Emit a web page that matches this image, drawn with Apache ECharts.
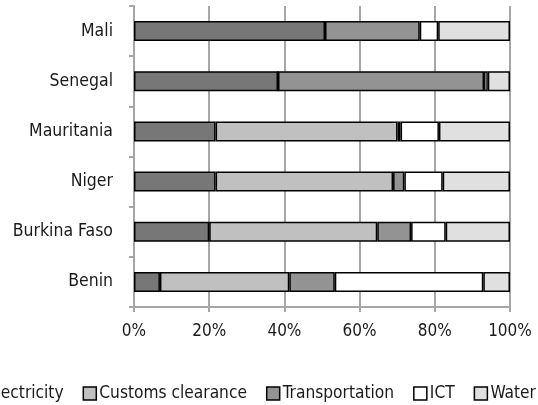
<!DOCTYPE html>
<html>
<head>
<meta charset="utf-8">
<script src="https://cdn.jsdelivr.net/npm/echarts@6/dist/echarts.min.js"></script>
<style>
  html, body { margin: 0; padding: 0; background: #fff; }
  #chart { width: 538px; height: 405px; }
</style>
</head>
<body>
<div id="chart"></div>
<script>
// categories, bottom to top
const countries = ['Benin', 'Burkina Faso', 'Niger', 'Mauritania', 'Senegal', 'Mali']
const seriesNames = ['Electricity', 'Customs clearance', 'Transportation', 'ICT', 'Water']

// shares in %, same order as countries
const electricity = [6.9, 20.0, 21.7, 21.7, 38.3, 50.8]
const customs = [34.4, 44.7, 47.2, 48.4, 0, 0]
const transportation = [12.1, 9.0, 3.0, 0.8, 54.8, 25.2]
const ict = [39.5, 9.2, 10.2, 10.2, 1.0, 4.9]
const water = [7.1, 17.1, 17.9, 18.9, 5.9, 19.1]

const xTicks = [0, 20, 40, 60, 80, 100]

const fontFamily = '"Liberation Sans Narrow", "Arial Narrow", "DejaVu Sans Condensed", "Liberation Sans", sans-serif'
const colors = ['#777777', '#c0c0c0', '#939393', '#ffffff', '#e0e0e0']
const values = [electricity, customs, transportation, ict, water]

const chart = echarts.init(document.getElementById('chart'))

const series = seriesNames.map((name, i) => ({
  name,
  type: 'bar',
  stack: 'total',
  barWidth: '40%',
  data: values[i],
  itemStyle: {
    color: colors[i],
    borderColor: '#000',
    borderWidth: 1.5
  },
  emphasis: { disabled: true }
}))

chart.setOption({
  animation: false,
  grid: {
    left: 134,
    right: 28,
    top: 6,
    bottom: 98,
    outerBoundsMode: 'none'
  },
  legend: {
    data: seriesNames,
    left: -35,
    top: 380,
    width: 700,
    icon: 'rect',
    itemWidth: 13,
    itemHeight: 13,
    itemGap: 19,
    itemStyle: { borderColor: '#000', borderWidth: 1.5 },
    textStyle: {
      fontFamily,
      fontSize: 17.2,
      color: '#1a1a1a',
      padding: [0, 0, 0, -2]
    }
  },
  xAxis: {
    type: 'value',
    min: xTicks[0],
    max: xTicks[xTicks.length - 1],
    interval: 20,
    axisLine: { show: true, lineStyle: { color: '#a6a6a6', width: 2 } },
    axisTick: { show: true, length: 5, lineStyle: { color: '#a6a6a6', width: 2 } },
    splitLine: { show: true, lineStyle: { color: '#a6a6a6', width: 2 } },
    axisLabel: {
      margin: 16,
      fontFamily,
      fontSize: 17,
      color: '#1a1a1a',
      formatter: '{value}%'
    }
  },
  yAxis: {
    type: 'category',
    data: countries,
    axisLine: { show: true, lineStyle: { color: '#a6a6a6', width: 2 } },
    axisTick: { show: true, length: 5, lineStyle: { color: '#a6a6a6', width: 2 } },
    axisLabel: {
      margin: 21,
      fontFamily,
      fontSize: 17.5,
      color: '#1a1a1a'
    }
  },
  series
})
</script>
</body>
</html>
